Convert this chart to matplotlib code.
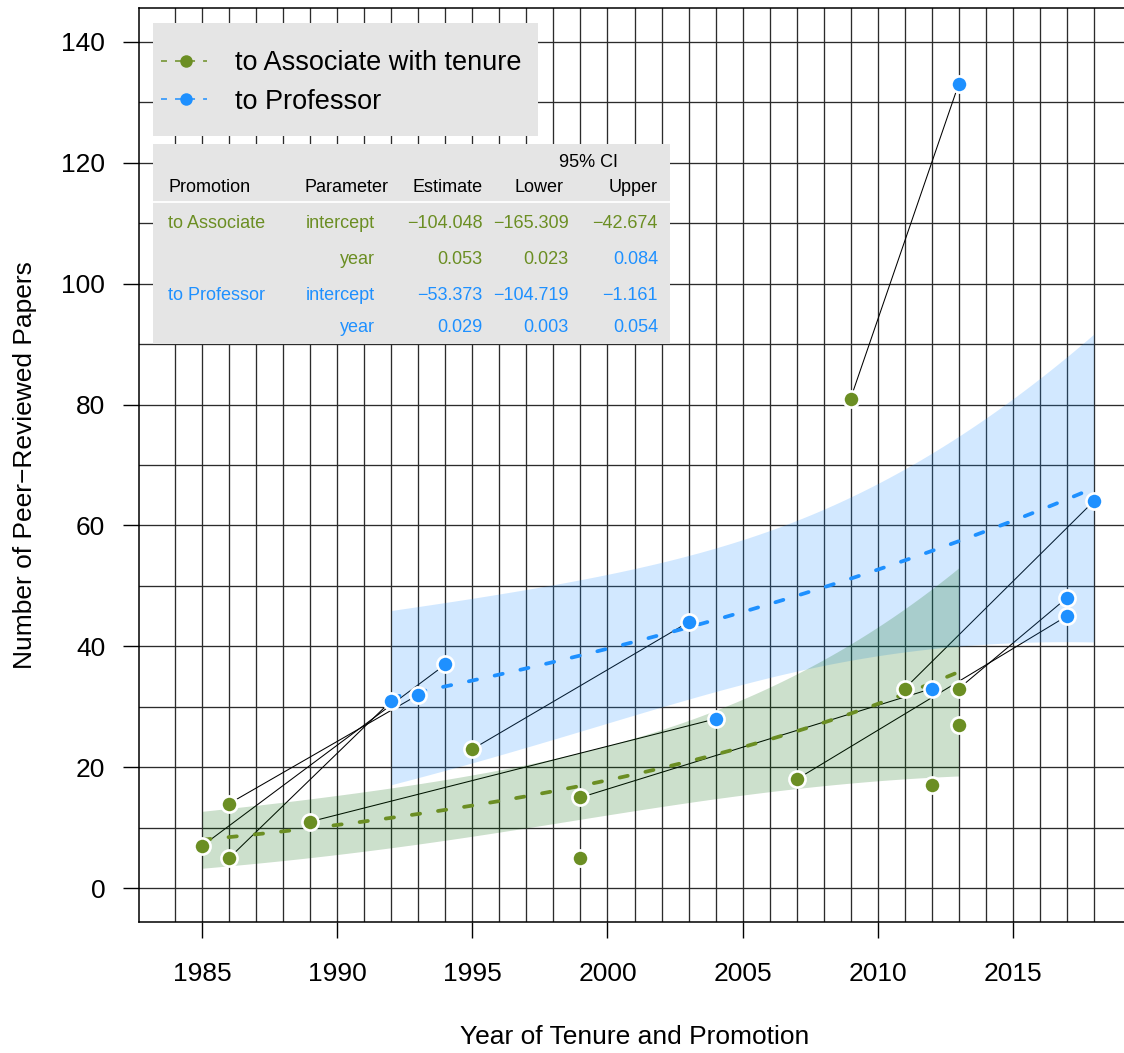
import numpy as np
import matplotlib
matplotlib.use("Agg")
import matplotlib.pyplot as plt
from matplotlib.lines import Line2D
from matplotlib.patches import Rectangle

plt.rcParams["font.family"] = ["Liberation Sans", "DejaVu Sans"]
plt.rcParams["lines.scale_dashes"] = False

GREEN = "#6B8E23"
BLUE = "#1E90FF"

# people with both promotions: year / papers at tenure, then at full professor
assoc_year = [1985, 1986, 1986, 1989, 1995, 1999, 2007, 2009, 2011, 2013]
assoc_papers = [7, 14, 5, 11, 23, 15, 18, 81, 33, 33]
prof_year = [1994, 1993, 1992, 2004, 2003, 2012, 2017, 2013, 2018, 2017]
prof_papers = [37, 32, 31, 28, 44, 33, 45, 133, 64, 48]

# tenured, not yet promoted
assoc_only_year = [1999, 2012, 2013]
assoc_only_papers = [5, 17, 27]

# log-linear count model: [intercept, year]
assoc_est = [-104.048, 0.053465]
assoc_lower = [-165.309, 0.023]
assoc_upper = [-42.674, 0.084]
prof_est = [-53.373, 0.028526]
prof_lower = [-104.719, 0.003]
prof_upper = [-1.161, 0.054]

# standard error of the linear predictor at its minimum (year, se)
assoc_se_ref = [2001.2, 0.163]
prof_se_ref = [2006.8, 0.1315]

assoc_span = [1985, 2013]
prof_span = [1992, 2018]

W, H = 1124, 1053
fig = plt.figure(figsize=(W / 100, H / 100), dpi=100)
ax = fig.add_axes([138.5 / W, (H - 922) / H, 992 / W, 914 / H])
ax.set_xlim(1982.64, 2019.36)
ax.set_ylim(-5.6, 145.6)

# grid: every year, every 10 papers
for yr in range(1984, 2019):
    ax.axvline(yr, color="#2c2c2c", lw=0.95, zorder=1)
for v in range(0, 141, 10):
    ax.axhline(v, color="#2c2c2c", lw=0.95, zorder=1)

# tenure -> promotion links
for x0, y0, x1, y1 in zip(assoc_year, assoc_papers, prof_year, prof_papers):
    ax.plot([x0, x1], [y0, y1], color="black", lw=0.75, zorder=2)


def fit_band(est, lower, upper, se_ref, span):
    xs = np.linspace(span[0], span[1], 300)
    mu = np.exp(est[0] + est[1] * xs)
    se_slope = (upper[1] - lower[1]) / (2 * 1.96)
    se_eta = np.sqrt(se_ref[1] ** 2 + ((xs - se_ref[0]) * se_slope) ** 2)
    half = 1.96 * mu * se_eta
    return xs, mu, mu - half, mu + half


xs_p, mu_p, lo_p, hi_p = fit_band(prof_est, prof_lower, prof_upper, prof_se_ref, prof_span)
xs_a, mu_a, lo_a, hi_a = fit_band(assoc_est, assoc_lower, assoc_upper, assoc_se_ref, assoc_span)

ax.fill_between(xs_p, lo_p, hi_p, color=BLUE, alpha=0.2, lw=0, zorder=3)
ax.fill_between(xs_a, lo_a, hi_a, color="darkgreen", alpha=0.2, lw=0, zorder=3)

dash = dict(lw=2.7, dashes=(6, 13), dash_capstyle="round", zorder=4)
ax.plot(xs_a, mu_a, color=GREEN, **dash)
ax.plot(xs_p, mu_p, color=BLUE, **dash)

pt = dict(s=135, edgecolors="white", linewidths=1.9, zorder=5)
ax.scatter(assoc_year + assoc_only_year, assoc_papers + assoc_only_papers, c=GREEN, **pt)
ax.scatter(prof_year, prof_papers, c=BLUE, **pt)

ax.set_xticks(range(1985, 2016, 5))
ax.set_yticks(range(0, 141, 20))
ax.tick_params(axis="both", direction="out", length=11.5, width=1.0, labelsize=19)
ax.tick_params(axis="x", pad=17)
ax.tick_params(axis="y", pad=12.5)
for sp in ax.spines.values():
    sp.set_linewidth(1.1)


def fx(x):
    return x / W


def fy(y):
    return 1 - y / H


fig.text(fx(634.5), fy(1037), "Year of Tenure and Promotion", fontsize=19,
         ha="center", va="center")
fig.text(fx(25), fy(465), "Number of Peer\u2212Reviewed Papers", fontsize=19,
         ha="center", va="center", rotation=90)

# legend
fig.add_artist(Rectangle((fx(153), fy(136)), fx(538) - fx(153), fy(23.3) - fy(136),
                         transform=fig.transFigure, facecolor="#e5e5e5",
                         edgecolor="none", zorder=10))
legend_rows = [("to Associate with tenure", GREEN, 60.7),
               ("to Professor", BLUE, 99.3)]
for label, col, yc in legend_rows:
    fig.add_artist(Line2D([fx(160.7), fx(207.2)], [fy(yc), fy(yc)], transform=fig.transFigure,
                          color=col, lw=1.1, dashes=(4.3, 5.8), zorder=11))
    fig.add_artist(Line2D([fx(185.5)], [fy(yc)], transform=fig.transFigure, marker="o",
                          markersize=9, color=col, markeredgewidth=0, zorder=12))
    fig.text(fx(234.7), fy(yc + 9.7), label, fontsize=19.5, va="baseline", ha="left", zorder=12)

# coefficient table
fig.add_artist(Rectangle((fx(153), fy(344)), fx(670.4) - fx(153), fy(144) - fy(344),
                         transform=fig.transFigure, facecolor="#e5e5e5",
                         edgecolor="none", zorder=10))
fig.add_artist(Line2D([fx(153), fx(670.4)], [fy(201.7), fy(201.7)], transform=fig.transFigure,
                      color="white", lw=1.3, zorder=11))

tsize = 13
fig.text(fx(588.3), fy(166.7), "95% CI", fontsize=tsize, ha="center", va="baseline", zorder=12)
header_y = fy(192.5)
fig.text(fx(168.2), header_y, "Promotion", fontsize=tsize, ha="left", va="baseline", zorder=12)
fig.text(fx(304.6), header_y, "Parameter", fontsize=tsize, ha="left", va="baseline", zorder=12)
fig.text(fx(482.7), header_y, "Estimate", fontsize=tsize, ha="right", va="baseline", zorder=12)
fig.text(fx(563.6), header_y, "Lower", fontsize=tsize, ha="right", va="baseline", zorder=12)
fig.text(fx(658.0), header_y, "Upper", fontsize=tsize, ha="right", va="baseline", zorder=12)


def fmt(v):
    return f"{v:.3f}".replace("-", "\u2212")


rows = [
    ("to Associate", "intercept", assoc_est[0], assoc_lower[0], assoc_upper[0],
     [GREEN, GREEN, GREEN, GREEN, GREEN], 228.3),
    ("", "year", assoc_est[1], assoc_lower[1], assoc_upper[1],
     [GREEN, GREEN, GREEN, GREEN, BLUE], 264.3),
    ("to Professor", "intercept", prof_est[0], prof_lower[0], prof_upper[0],
     [BLUE, BLUE, BLUE, BLUE, BLUE], 300.2),
    ("", "year", prof_est[1], prof_lower[1], prof_upper[1],
     [BLUE, BLUE, BLUE, BLUE, BLUE], 331.5),
]
for promo, par, est, lo, up, cols, yb in rows:
    y = fy(yb)
    if promo:
        fig.text(fx(168.2), y, promo, fontsize=tsize, color=cols[0], ha="left",
                 va="baseline", zorder=12)
    fig.text(fx(375.0), y, par, fontsize=tsize, color=cols[1], ha="right",
             va="baseline", zorder=12)
    fig.text(fx(482.7), y, fmt(est), fontsize=tsize, color=cols[2], ha="right",
             va="baseline", zorder=12)
    fig.text(fx(568.8), y, fmt(lo), fontsize=tsize, color=cols[3], ha="right",
             va="baseline", zorder=12)
    fig.text(fx(658.0), y, fmt(up), fontsize=tsize, color=cols[4], ha="right",
             va="baseline", zorder=12)

fig.savefig("out.png", dpi=100)
